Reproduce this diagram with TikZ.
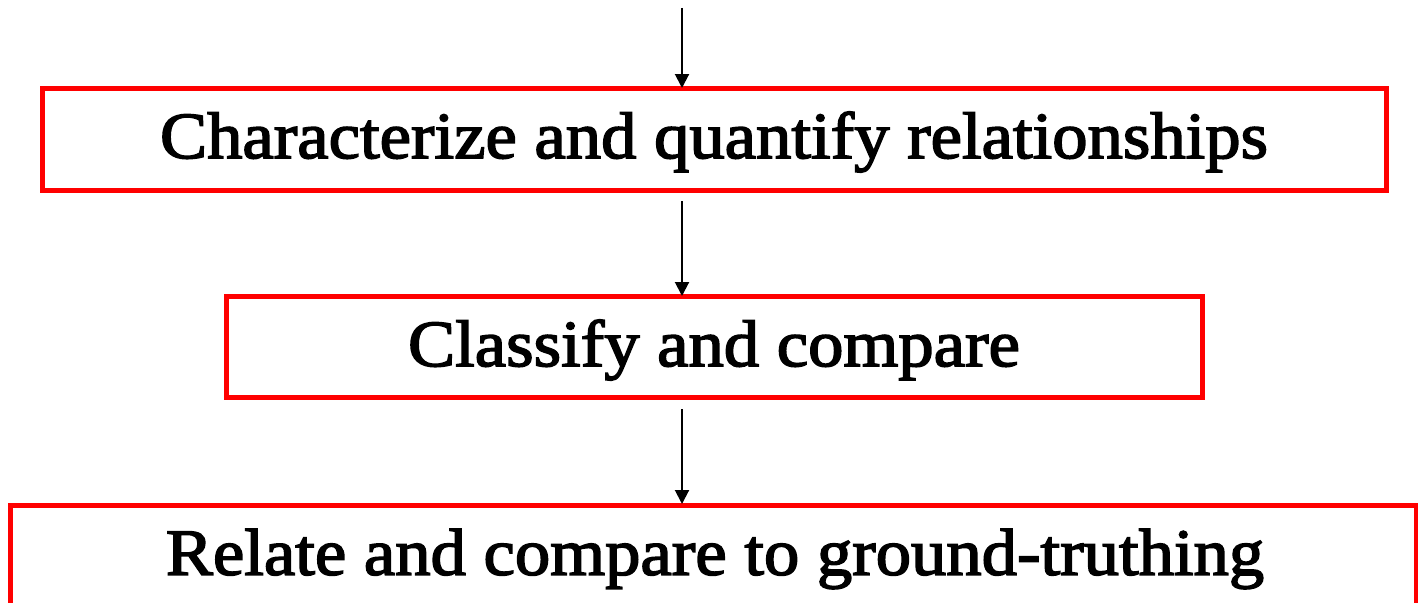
\documentclass[tikz,border=0pt]{standalone}
\usepackage{fontspec}
\setmainfont[FakeStretch=1.07,FakeBold=2.4]{Liberation Serif}
\usetikzlibrary{arrows.meta}
\tikzset{
  stepbox/.style={draw=red, line width=5pt, inner sep=0pt, anchor=north west},
  steptext/.style={font=\fontsize{66}{70}\selectfont, inner sep=0pt, text=black},
  flow/.style={line width=2pt, -{Triangle[length=14pt,width=14pt]}}
}
\begin{document}
\begin{tikzpicture}[x=1pt,y=-1pt]
\useasboundingbox (0,0) rectangle (1418,602);
% boxes (px coordinates, y down)
\draw[stepbox] (42,88.5) rectangle (1386,190);
\node[inner sep=0pt] (box1) at (714,139) {};
\draw[stepbox] (226,296.5) rectangle (1202,397);
\node[inner sep=0pt] (box2) at (714,347) {};
\draw[stepbox] (10.5,505) rectangle (1416,640);
\node[inner sep=0pt] (box3) at (714,560) {};
\node[steptext] (t1) at (714,142) {Characterize and quantify relationships};
\node[steptext] (t2) at (714,350) {Classify and compare};
\node[steptext] (t3) at (715,559) {Relate and compare to ground-truthing};
\coordinate (s0) at (682,8);
\coordinate (e0) at (682,88);
\coordinate (s1) at (682,201);
\coordinate (e1) at (682,296);
\coordinate (s2) at (682,409);
\coordinate (e2) at (682,504);
\draw[flow] (s0) -- (e0);
\draw[flow] (s1) -- (e1);
\draw[flow] (s2) -- (e2);
\end{tikzpicture}
\end{document}
